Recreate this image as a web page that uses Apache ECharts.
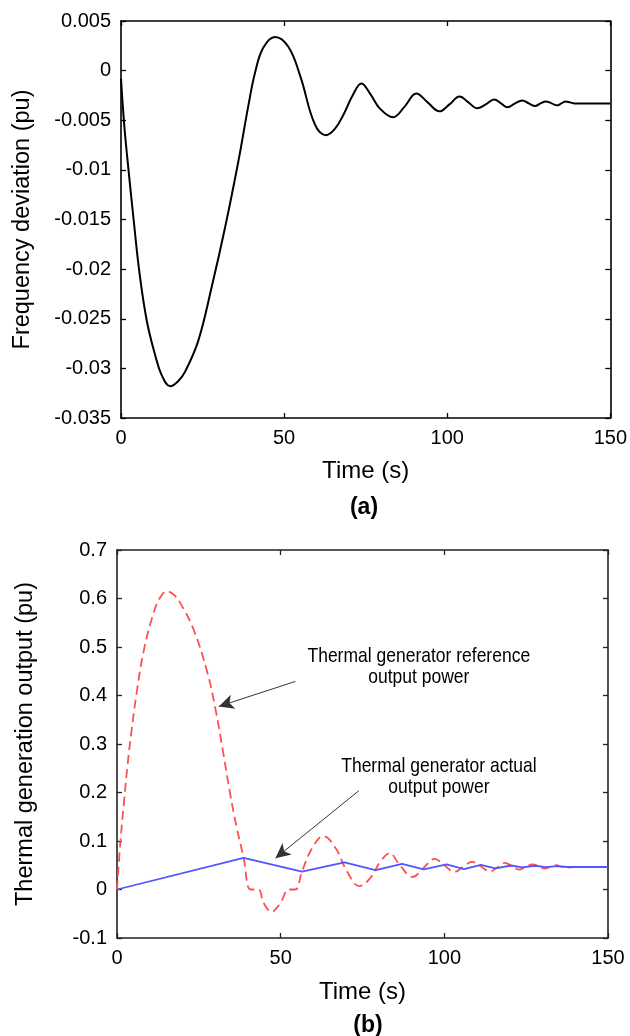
<!DOCTYPE html>
<html>
<head>
<meta charset="utf-8">
<title>Frequency deviation and thermal generation output</title>
<script src="https://cdn.jsdelivr.net/npm/echarts@6/dist/echarts.min.js"></script>
<style>
  html, body { margin: 0; padding: 0; background: #fff; }
  #chart { width: 630px; height: 1036px; }
</style>
</head>
<body>
<div id="chart"></div>
<script>
// (a) system frequency deviation, pu, against time in seconds
const timeA = [0, 1, 2.3, 3.9, 5.6, 7.9, 10.5, 12.5, 15.1, 17.5, 19.7, 23.7, 27.8, 31.9, 36, 39, 41.1, 43.6, 47.2, 51.3,
  55, 59.4, 62.8, 65.5, 68.1, 71, 73.7, 76.5, 79.3, 83.4, 87, 90.5, 94, 97.6, 100.7, 103.8, 106.5, 109.2, 111.8, 114.4,
  116.5, 118.5, 120.8, 123, 125, 127, 128.6, 130.2, 132, 133.7, 135, 136.3, 137.7, 139, 150];
const freqDeviation = [-0.0008, -0.0055, -0.0100, -0.0151, -0.0202, -0.0252, -0.0287, -0.0307, -0.0318, -0.0313, -0.0303,
  -0.0272, -0.0218, -0.0158, -0.0091, -0.0036, -0.0002, 0.0023, 0.0034, 0.0024,
  -0.0006, -0.0054, -0.0065, -0.0059, -0.0045, -0.0025, -0.0013, -0.0024, -0.0038, -0.0047, -0.0036, -0.0023, -0.0032,
  -0.0041, -0.0034, -0.0026, -0.0032, -0.0038, -0.0034, -0.0029,
  -0.0033, -0.0037, -0.0033, -0.0030, -0.0033, -0.00356, -0.0033, -0.0031, -0.0033, -0.0035, -0.0033, -0.0031, -0.0032,
  -0.0033, -0.0033];

// (b) thermal generator reference output power, pu
const timeRef = [0, 1, 2.2, 3.2, 4.3, 6.1, 8.1, 10.7, 13, 15.3, 17.5, 19.3, 23.4, 27.5, 30, 32.5, 34.5, 36.5, 38.7,
  40.8, 43.2, 44.8, 47.2, 49.9, 52.5, 54.5, 56.5, 59.6, 63, 66.8, 70.3, 74, 77.4, 80.5, 83.3, 86.3, 90.3, 93.7, 97,
  100, 103, 105.8, 108.5, 111.3, 113.9, 116.3, 118.5, 120.7, 123, 125, 127, 128.8, 130.6, 132.4, 134.2, 135.8, 137.4,
  140, 150];
const refPower = [0, 0.095, 0.185, 0.255, 0.32, 0.41, 0.49, 0.56, 0.6, 0.615, 0.607, 0.591, 0.536, 0.45, 0.375, 0.28,
  0.2, 0.13, 0.065,
  0, 0, -0.028, -0.046, -0.028, 0, 0, 0.037, 0.085, 0.11, 0.085, 0.037, 0.007, 0.024, 0.058, 0.075, 0.051, 0.026, 0.045,
  0.063,
  0.05, 0.036, 0.047, 0.057, 0.047, 0.037, 0.046, 0.055, 0.048, 0.041, 0.047, 0.052, 0.048, 0.043, 0.047, 0.05, 0.047,
  0.045, 0.0464, 0.0464];

// (b) thermal generator actual output power, pu (rate-limited ramps)
const timeAct = [0, 38.7, 56.5, 69.5, 79, 87.1, 93.7, 100.7, 106, 111.2, 115.6, 120.4, 123.8, 127.8, 130.9, 134.5,
  137.5, 150];
const actualPower = [0, 0.065, 0.037, 0.056, 0.04, 0.053, 0.0415, 0.052, 0.042, 0.051, 0.0435, 0.0495, 0.0455, 0.049,
  0.0462, 0.048, 0.0464, 0.0464];

// axis ranges and tick steps
const timeRange = [0, 150, 50];
const freqRange = [-0.035, 0.005, 0.005];
const powerRange = [-0.1, 0.7, 0.1];

// callouts in panel (b): text anchor [time, pu], arrow tail and head [time, pu]
const callouts = [
  { text: 'Thermal generator reference\noutput power', at: [92.2, 0.459], from: [54.5, 0.429], to: [31.1, 0.3775] },
  { text: 'Thermal generator actual\noutput power', at: [98.35, 0.233], from: [73.9, 0.2037], to: [48.4, 0.0645] }
];

const pairs = (xs, ys) => xs.map((x, i) => [x, ys[i]]);

const FONT = "'Liberation Sans', Arial, Helvetica, sans-serif";

function xAxisFor(grid, position, withLabels, frameColor, gap) {
  return {
    type: 'value', gridIndex: grid, position: position,
    min: timeRange[0], max: timeRange[1], interval: timeRange[2],
    axisLine: { show: true, onZero: false, lineStyle: { color: frameColor, width: 1.6 } },
    axisTick: { show: true, inside: true, length: 5, lineStyle: { color: frameColor, width: 1.3 } },
    axisLabel: { show: withLabels, fontFamily: FONT, fontSize: 20, color: '#000', margin: 10 },
    splitLine: { show: false },
    name: withLabels ? 'Time (s)' : '',
    nameLocation: 'middle', nameGap: gap || 41,
    nameTextStyle: { fontFamily: FONT, fontSize: 24, color: '#000' }
  };
}

function yAxisFor(grid, position, range, digits, title, gap, frameColor) {
  const withLabels = position === 'left';
  return {
    type: 'value', gridIndex: grid, position: position,
    min: range[0], max: range[1], interval: range[2],
    axisLine: { show: true, onZero: false, lineStyle: { color: frameColor, width: 1.6 } },
    axisTick: { show: true, inside: true, length: 5, lineStyle: { color: frameColor, width: 1.3 } },
    axisLabel: {
      show: withLabels, fontFamily: FONT, fontSize: 20, color: '#000', margin: 10,
      formatter: v => String(Number(v.toFixed(digits)))
    },
    splitLine: { show: false },
    name: withLabels ? title : '',
    nameLocation: 'middle', nameRotate: 90, nameGap: gap,
    nameTextStyle: { fontFamily: FONT, fontSize: 23.5, color: '#000' }
  };
}

const panelLabels = [
  { id: 'panelA', type: 'text', x: 364, y: 508, style: { text: '(a)', fontFamily: FONT, fontSize: 23, fontWeight: 'bold', fill: '#000', align: 'center', verticalAlign: 'middle' } },
  { id: 'panelB', type: 'text', x: 368, y: 1026, style: { text: '(b)', fontFamily: FONT, fontSize: 23, fontWeight: 'bold', fill: '#000', align: 'center', verticalAlign: 'middle' } }
];

const option = {
  animation: false,
  backgroundColor: '#fff',
  grid: [
    { left: 121, top: 21, width: 491, height: 397 },
    { left: 117, top: 550, width: 491, height: 388 }
  ],
  xAxis: [
    xAxisFor(0, 'bottom', true, '#000'),
    xAxisFor(0, 'top', false, '#000'),
    xAxisFor(1, 'bottom', true, '#222', 42),
    xAxisFor(1, 'top', false, '#222')
  ],
  yAxis: [
    yAxisFor(0, 'left', freqRange, 3, 'Frequency deviation (pu)', 86, '#000'),
    yAxisFor(0, 'right', freqRange, 3, '', 0, '#000'),
    yAxisFor(1, 'left', powerRange, 1, 'Thermal generation output (pu)', 79, '#222'),
    yAxisFor(1, 'right', powerRange, 1, '', 0, '#222')
  ],
  graphic: panelLabels,
  series: [
    {
      name: 'Frequency deviation', type: 'line', xAxisIndex: 0, yAxisIndex: 0,
      data: pairs(timeA, freqDeviation), smooth: 0.4, showSymbol: false, symbol: 'none',
      lineStyle: { color: '#000', width: 2 }
    },
    {
      name: 'Thermal generator reference output power', type: 'line', xAxisIndex: 2, yAxisIndex: 2,
      data: pairs(timeRef, refPower), smooth: 0.4, showSymbol: false, symbol: 'none',
      lineStyle: { color: '#ff5050', width: 1.8, type: [9, 5] },
      markLine: {
        silent: true, symbol: ['none', 'arrow'], symbolSize: [11, 15],
        lineStyle: { color: '#333', width: 1, type: 'solid' },
        label: { show: false },
        data: callouts.map(c => [{ coord: c.from }, { coord: c.to }])
      }
    },
    {
      name: 'Thermal generator actual output power', type: 'line', xAxisIndex: 2, yAxisIndex: 2,
      data: pairs(timeAct, actualPower), showSymbol: false, symbol: 'none',
      lineStyle: { color: '#5555ff', width: 1.8 }
    }
  ]
};

const chart = echarts.init(document.getElementById('chart'), null, { renderer: 'canvas' });
chart.setOption(option);

// callout texts are set in a condensed face: place them from the panel (b) scales
const calloutTexts = callouts.map((c, i) => {
  const p = chart.convertToPixel({ xAxisIndex: 2, yAxisIndex: 2 }, c.at);
  return {
    id: 'callout' + i, type: 'text', x: p[0], y: p[1], scaleX: 0.833, silent: true,
    style: {
      text: c.text, fontFamily: FONT, fontSize: 21, lineHeight: 21.5, fill: '#000',
      align: 'center', verticalAlign: 'middle'
    }
  };
});
chart.setOption({ graphic: panelLabels.concat(calloutTexts) });
</script>
</body>
</html>
